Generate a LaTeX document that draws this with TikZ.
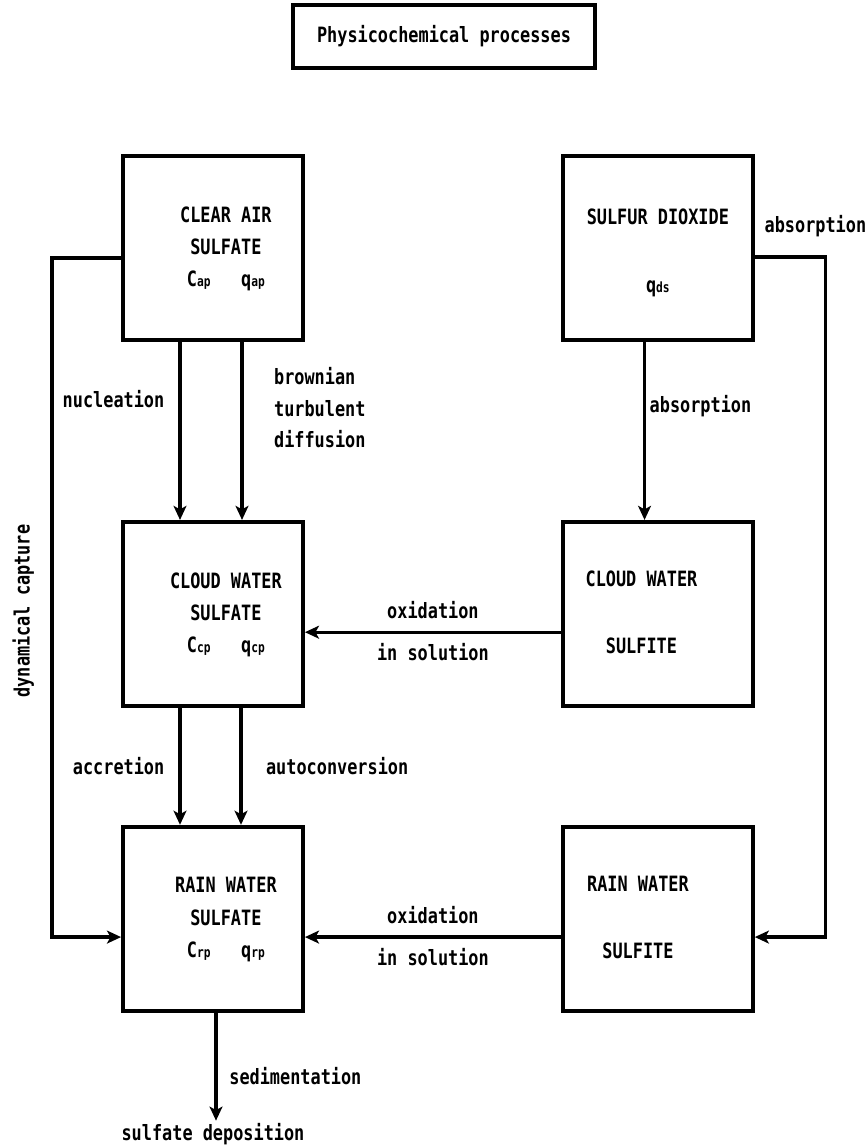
\documentclass[tikz,border=0pt]{standalone}
\usepackage{fontspec}
\usepackage{tikz}
\usetikzlibrary{arrows.meta, positioning, calc}
\newfontfamily\plotfont{DejaVu Sans Mono}[FakeStretch=0.8]
\newcommand{\lowidx}[1]{{\fontsize{12}{12}\selectfont #1}}
\newcommand{\boxlines}[3]{\begin{tabular}{@{\hspace{#1}}c@{\hspace{#2}}}#3\end{tabular}}
\tikzset{
  procbox/.style={rectangle,draw=black,line width=3.3pt,align=center,
    font=\plotfont\bfseries\fontsize{18}{27.5}\selectfont,
    minimum width=5.4cm,minimum height=5.52cm},
  widebox/.style={procbox,minimum width=5.7cm},
  hdrbox/.style={procbox,minimum width=9.06cm,minimum height=1.89cm},
  lbl/.style={font=\plotfont\bfseries\fontsize{18}{27}\selectfont,align=left,inner sep=2pt},
  arr/.style={-{Stealth[length=12pt,width=11pt,inset=3pt]},line width=2.8pt,color=black}
}
\begin{document}
\begin{tikzpicture}
  \useasboundingbox (0,0) rectangle (25.98,-34.44);

  \node[hdrbox] (hdr) at (13.32,-1.095) {Physicochemical processes};

  \node[procbox] (air) at (6.39,-7.44)
      {\boxlines{22pt}{0pt}{CLEAR AIR\\SULFATE\\C\lowidx{ap}\hspace{26pt}q\lowidx{ap}}};
  \node[widebox,right=7.68cm of air] (diox)
      {\boxlines{0pt}{0pt}{\rule{0pt}{26pt}SULFUR DIOXIDE\\[30pt]q\lowidx{ds}}};
  \node[procbox,below=5.34cm of air] (cwsul)
      {\boxlines{22pt}{0pt}{CLOUD WATER\\SULFATE\\C\lowidx{cp}\hspace{26pt}q\lowidx{cp}}};
  \node[widebox,below=5.34cm of diox] (cwsit)
      {\boxlines{0pt}{28pt}{CLOUD WATER\\[30pt]SULFITE}};
  \node[procbox,below=3.51cm of cwsul] (rwsul)
      {\boxlines{22pt}{0pt}{RAIN WATER\\SULFATE\\C\lowidx{rp}\hspace{26pt}q\lowidx{rp}}};
  \node[widebox,below=3.51cm of cwsit] (rwsit)
      {\boxlines{0pt}{34pt}{RAIN WATER\\[30pt]SULFITE}};
  \node[lbl,below=3.24cm of rwsul] (dep) {sulfate deposition};

  % clear air -> cloud water
  \draw[arr] ([xshift=-0.99cm]air.south) -- node[lbl,pos=0.32,left=10pt]{nucleation} ([xshift=-0.99cm]cwsul.north);
  \draw[arr] ([xshift=0.87cm]air.south) -- node[lbl,pos=0.37,right=24pt]{brownian\\turbulent\\diffusion} ([xshift=0.87cm]cwsul.north);
  \draw[arr] ([xshift=-0.4cm]diox.south) -- node[lbl,pos=0.36,right=1pt]{absorption} ([xshift=-0.4cm]cwsit.north);
  \draw[arr] ([yshift=-0.55cm]cwsit.west) -- node[lbl,midway,above=8pt]{oxidation} node[lbl,midway,below=6pt]{in solution} ([yshift=-0.55cm]cwsul.east);

  % cloud water -> rain water
  \draw[arr] ([xshift=-0.99cm]cwsul.south) -- node[lbl,midway,left=10pt]{accretion} ([xshift=-0.99cm]rwsul.north);
  \draw[arr] ([xshift=0.84cm]cwsul.south) -- node[lbl,midway,right=18pt]{autoconversion} ([xshift=0.84cm]rwsul.north);
  \draw[arr] ([yshift=-0.55cm]rwsit.west) -- node[lbl,midway,above=8pt]{oxidation} node[lbl,midway,below=6pt]{in solution} ([yshift=-0.55cm]rwsul.east);

  % side loops
  \draw[arr] ([yshift=-0.3cm]air.west) -| node[lbl,pos=0.76,rotate=90,anchor=south,inner ysep=14pt]{dynamical capture}
      ([xshift=-2.07cm,yshift=-0.55cm]rwsul.west) -- ([yshift=-0.55cm]rwsul.west);
  \draw[arr] ([yshift=-0.27cm]diox.east) -| node[lbl,pos=0,anchor=south west,xshift=5pt,yshift=14pt]{absorption}
      ([xshift=2.13cm,yshift=-0.55cm]rwsit.east) -- ([yshift=-0.55cm]rwsit.east);

  \draw[arr] ([xshift=0.09cm]rwsul.south) -- node[lbl,pos=0.59,right=8pt]{sedimentation} ([xshift=0.09cm]dep.north);
\end{tikzpicture}
\end{document}
